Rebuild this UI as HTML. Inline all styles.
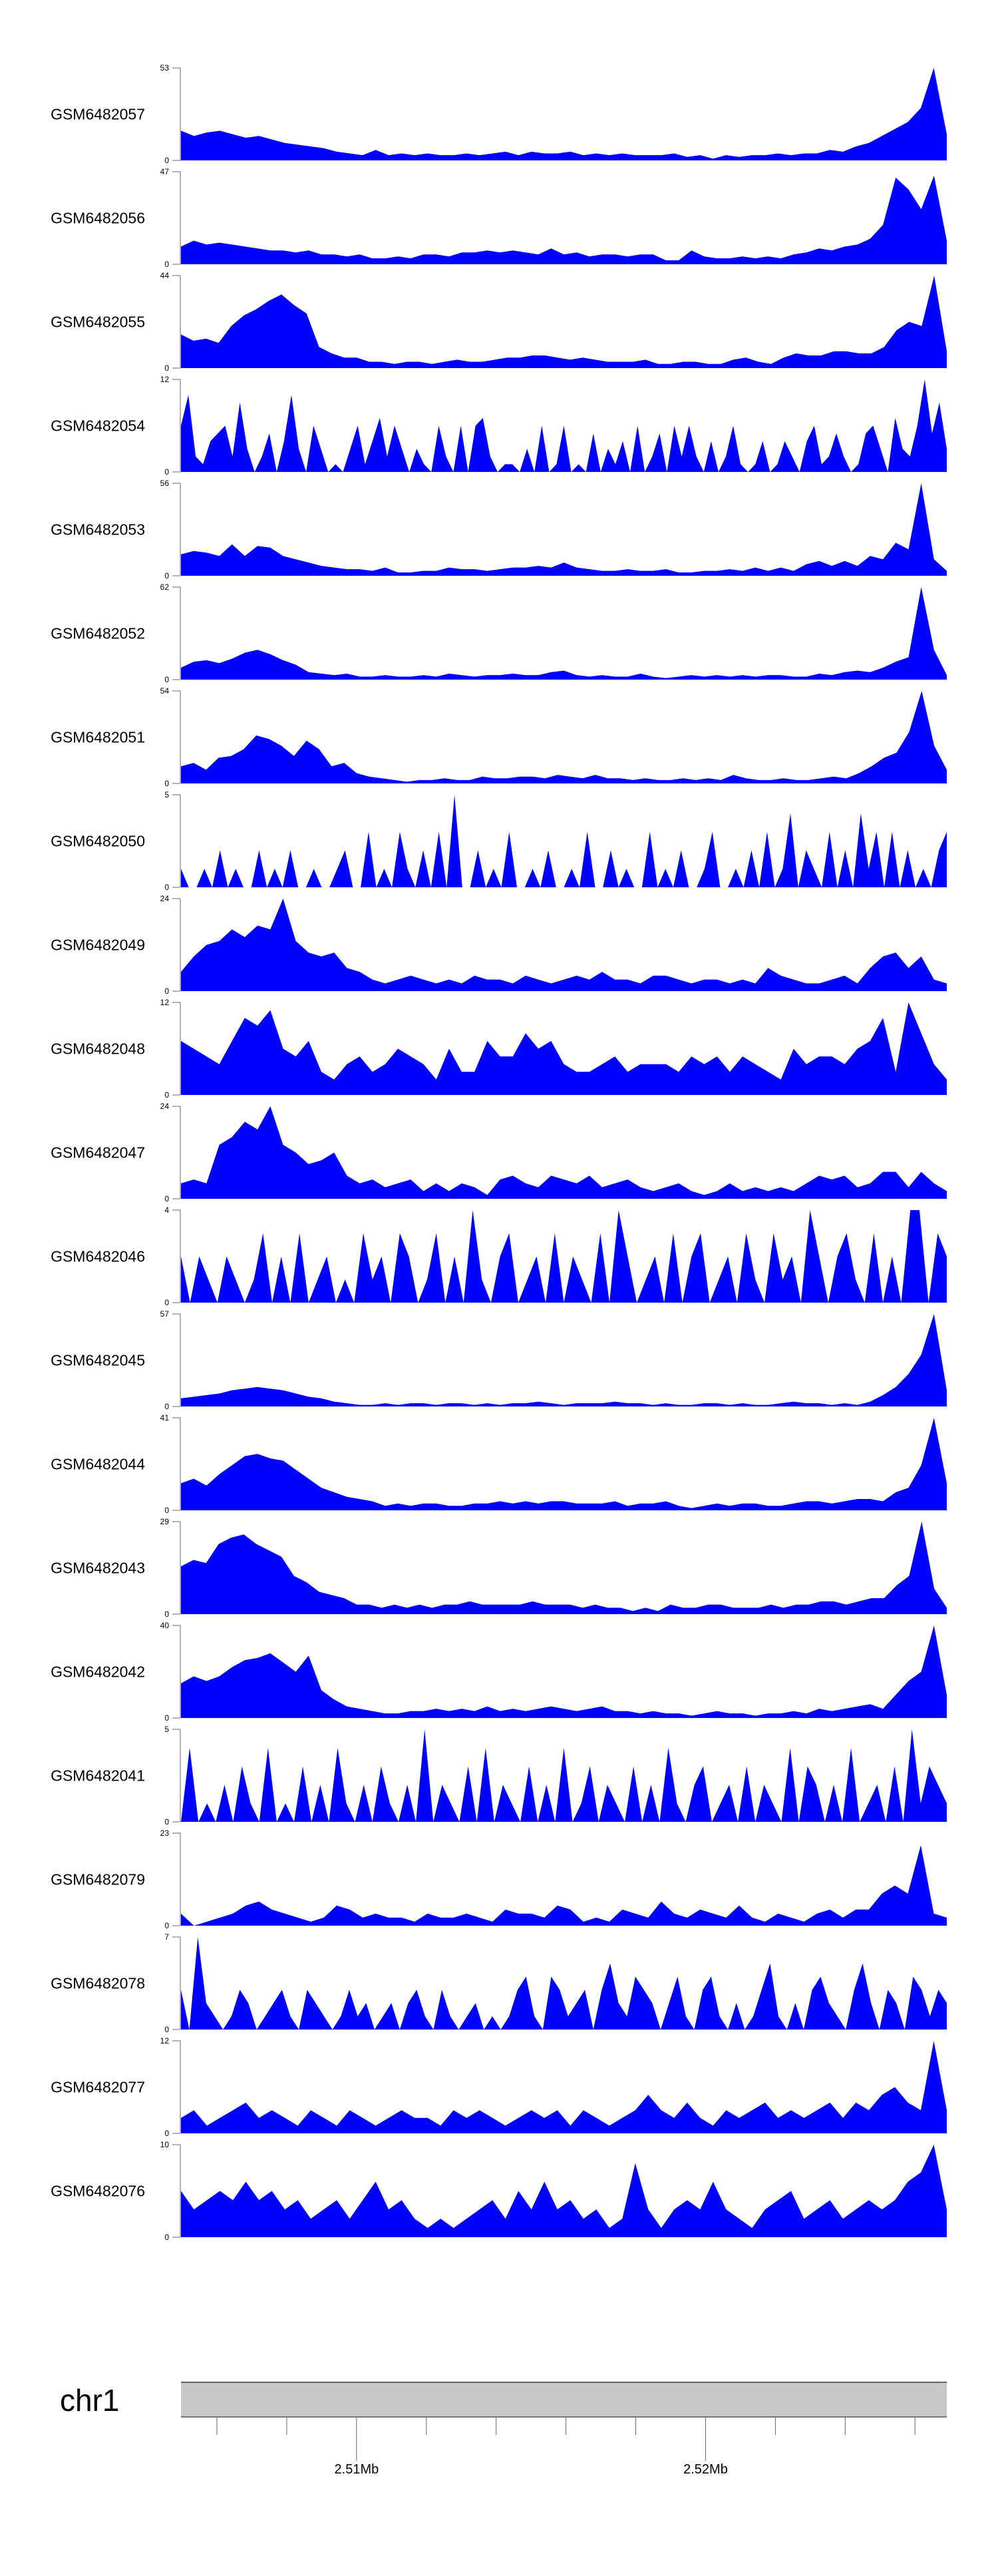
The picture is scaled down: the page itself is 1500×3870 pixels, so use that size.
<!DOCTYPE html>
<html><head><meta charset="utf-8"><style>html,body{margin:0;padding:0;background:#fff}svg{display:block}</style></head>
<body>
<svg id="chart" width="1500" height="3870" viewBox="0 0 1500 3870" xmlns="http://www.w3.org/2000/svg" font-family="Liberation Sans, sans-serif"></svg>
<script>
const sampleNames=["GSM6482057","GSM6482056","GSM6482055","GSM6482054","GSM6482053","GSM6482052","GSM6482051","GSM6482050","GSM6482049","GSM6482048","GSM6482047","GSM6482046","GSM6482045","GSM6482044","GSM6482043","GSM6482042","GSM6482041","GSM6482079","GSM6482078","GSM6482077","GSM6482076"];
const trackMax=[53,47,44,12,56,62,54,5,24,12,24,4,57,41,29,40,5,23,7,12,10];
const s0=[17,14,16,17,15,13,14,12,10,9,8,7,5,4,3,6,3,4,3,4,3,3,4,3,4,5,3,5,4,4,5,3,4,3,4,3,3,3,4,2,3,1,3,2,3,3,4,3,4,4,6,5,8,10,14,18,22,30,53,15];
const s1=[9,12,10,11,10,9,8,7,7,6,7,5,5,4,5,3,3,4,3,5,5,4,6,6,7,6,7,6,5,8,5,6,4,5,5,4,5,5,2,2,7,4,3,3,4,3,4,3,5,6,8,7,9,10,13,20,44,38,28,45,12];
const s2=[16,13,14,12,20,25,28,32,35,30,26,10,7,5,5,3,3,2,3,3,2,3,4,3,3,4,5,5,6,6,5,4,5,4,3,3,3,4,2,2,3,3,2,2,4,5,3,2,5,7,6,6,8,8,7,7,10,18,22,20,44,8];
const s3=[6,10,2,1,4,5,6,2,9,3,0,2,5,0,4,10,3,0,6,3,0,1,0,3,6,1,4,7,2,6,3,0,3,1,0,6,2,0,6,0,6,7,2,0,1,1,0,3,0,6,0,1,6,0,1,0,5,0,3,1,4,0,6,0,2,5,0,6,2,6,2,0,4,0,2,6,1,0,1,4,0,1,4,2,0,4,6,1,2,5,2,0,1,5,6,3,0,7,3,2,6,12,5,9,3];
const s4=[13,15,14,12,19,12,18,17,12,10,8,6,5,4,4,3,5,2,2,3,3,5,4,4,3,4,5,5,6,5,8,5,4,3,3,4,3,3,4,2,2,3,3,4,3,5,3,5,3,7,9,6,9,6,12,10,20,16,56,10,3];
const s5=[8,12,13,11,14,18,20,17,13,10,5,4,3,4,2,2,3,2,2,3,2,4,3,2,3,3,4,3,3,5,6,3,2,3,2,2,4,2,1,2,3,2,3,2,3,2,3,3,2,2,4,3,5,6,5,8,12,15,62,20,3];
const s6=[10,12,8,15,16,20,28,26,22,16,25,20,10,12,6,4,3,2,1,2,2,3,2,2,4,3,3,4,4,3,5,4,3,5,3,3,2,3,2,2,3,2,3,2,5,3,2,2,3,2,2,3,4,3,6,10,15,18,30,54,22,8];
const s7=[1,0,0,1,0,2,0,1,0,0,2,0,1,0,2,0,0,1,0,0,1,2,0,0,3,0,1,0,3,1,0,2,0,3,0,5,0,0,2,0,1,0,3,0,0,1,0,2,0,0,1,0,3,0,0,2,0,1,0,0,3,0,1,0,2,0,0,1,3,0,0,1,0,2,0,3,0,1,4,0,2,1,0,3,0,2,0,4,1,3,0,3,0,2,0,1,0,2,3];
const s8=[5,9,12,13,16,14,17,16,24,13,10,9,10,6,5,3,2,3,4,3,2,3,2,4,3,3,2,4,3,2,3,4,3,5,3,3,2,4,4,3,2,3,3,2,3,2,6,4,3,2,2,3,4,2,6,9,10,6,9,3,2];
const s9=[7,6,5,4,7,10,9,11,6,5,7,3,2,4,5,3,4,6,5,4,2,6,3,3,7,5,5,8,6,7,4,3,3,4,5,3,4,4,4,3,5,4,5,3,5,4,3,2,6,4,5,5,4,6,7,10,3,12,8,4,2];
const s10=[4,5,4,14,16,20,18,24,14,12,9,10,12,6,4,5,3,4,5,2,4,2,4,3,1,5,6,4,3,6,5,4,6,3,4,5,3,2,3,4,2,1,2,4,2,3,2,3,2,4,6,5,6,3,4,7,7,3,7,4,2];
const s11=[2,0,2,1,0,2,1,0,1,3,0,2,0,3,0,1,2,0,1,0,3,1,2,0,3,2,0,1,3,0,2,0,4,1,0,2,3,0,1,2,0,3,0,2,1,0,3,0,4,2,0,1,2,0,3,0,2,3,0,1,2,0,3,1,0,3,1,2,0,4,2,0,2,3,1,0,3,0,2,0,4,4,0,3,2];
const s12=[5,6,7,8,10,11,12,11,10,8,6,5,3,2,1,1,2,1,2,2,1,2,2,1,2,1,2,2,3,2,1,2,2,2,3,2,2,1,2,1,1,2,2,1,2,1,1,2,3,2,2,1,2,1,3,7,12,20,32,57,10];
const s13=[12,14,11,16,20,24,25,23,22,18,14,10,8,6,5,4,2,3,2,3,3,2,2,3,3,4,3,4,3,4,4,3,3,3,4,2,3,3,4,2,1,2,3,2,3,3,2,2,3,4,4,3,4,5,5,4,8,10,20,41,12];
const s14=[15,17,16,22,24,25,22,20,18,12,10,7,6,5,3,3,2,3,2,3,2,3,3,4,3,3,3,3,4,3,3,3,2,3,2,2,1,2,1,3,2,2,3,3,2,2,2,3,2,3,3,4,4,3,4,5,5,9,12,29,8,2];
const s15=[15,18,16,18,22,25,26,28,24,20,27,12,8,5,4,3,2,2,3,3,4,3,4,3,5,3,4,3,4,5,4,3,4,5,3,3,2,3,2,2,1,2,3,2,2,1,2,2,3,2,4,3,4,5,6,4,10,16,20,40,10];
const s16=[0,4,0,1,0,2,0,3,1,0,4,0,1,0,3,0,2,0,4,1,0,2,0,3,1,0,2,0,5,0,2,1,0,3,0,4,0,2,1,0,3,0,2,0,4,0,1,3,0,2,1,0,3,0,2,0,4,1,0,2,3,0,1,2,0,3,0,2,1,0,4,0,3,2,0,2,0,4,0,1,2,0,3,0,5,1,3,2,1];
const s17=[3,0,1,2,3,5,6,4,3,2,1,2,5,4,2,3,2,2,1,3,2,2,3,2,1,4,3,3,2,5,4,1,2,1,4,3,2,6,3,2,4,3,2,5,2,1,3,2,1,3,4,2,4,4,8,10,8,20,3,2];
const s18=[3,0,7,2,1,0,1,3,2,0,1,2,3,1,0,3,2,1,0,1,3,1,2,0,1,2,0,2,3,1,0,3,1,0,1,2,0,1,0,1,3,4,1,0,4,3,1,2,3,0,3,5,2,1,4,3,2,0,2,4,1,0,3,4,1,0,2,0,1,3,5,1,0,2,0,3,4,2,1,0,3,5,2,0,3,2,0,4,3,1,3,2];
const s19=[2,3,1,2,3,4,2,3,2,1,3,2,1,3,2,1,2,3,2,2,1,3,2,3,2,1,2,3,2,3,1,3,2,1,2,3,5,3,2,4,2,1,3,2,3,4,2,3,2,3,4,2,4,3,5,6,4,3,12,3];
const s20=[5,3,4,5,4,6,4,5,3,4,2,3,4,2,4,6,3,4,2,1,2,1,2,3,4,2,5,3,6,3,4,2,3,1,2,8,3,1,3,4,3,6,3,2,1,3,4,5,2,3,4,2,3,4,3,4,6,7,10,3];
const series=[s0,s1,s2,s3,s4,s5,s6,s7,s8,s9,s10,s11,s12,s13,s14,s15,s16,s17,s18,s19,s20];
const axisTickLabels=["2.51Mb","2.52Mb"];
const genomicStartKb=2504.97, genomicEndKb=2526.91, minorStepKb=2;

const NS="http://www.w3.org/2000/svg";
const svg=document.getElementById('chart');
function mk(tag,attrs,parent){const e=document.createElementNS(NS,tag);for(const k in attrs)e.setAttribute(k,attrs[k]);(parent||svg).appendChild(e);return e;}
const X0=272,X1=1423,TOP0=102,PITCH=156,H=139;
function xIdx(i,n){return X0+(X1-X0)*i/(n-1);}
function yVal(v,max,top){return top+H-H*Math.min(v,max)/max;}

series.forEach((vals,t)=>{
  const top=TOP0+t*PITCH, base=top+H, max=trackMax[t];
  const g=mk('g',{});
  
  
  const lab=mk('text',{x:218,y:top+H/2+8,'text-anchor':'end','font-size':23,fill:'#000'},g);
  lab.textContent=sampleNames[t];
  
  
  const ax=mk('path',{d:`M259 ${top}H271V${base}H259`,stroke:'#888',fill:'none','stroke-width':1.3},g);
  
  
  const tMax=mk('text',{x:254,y:top+4,'text-anchor':'end','font-size':12,fill:'#000'},g);
  tMax.textContent=String(max);
  
  
  const tMin=mk('text',{x:254,y:base+4,'text-anchor':'end','font-size':12,fill:'#000'},g);
  tMin.textContent='0';
  
  
  let d=`M${X0} ${base}`;
  vals.forEach((v,i)=>{d+=`L${xIdx(i,vals.length).toFixed(1)} ${yVal(v,max,top).toFixed(1)}`;});
  d+=`L${X1} ${base}Z`;
  const area=mk('path',{d:d,fill:'#0000ff',stroke:'none'},g);
  
  
});

// chromosome axis
const cg=mk('g',{});


const chr=mk('text',{x:90,y:3622,'font-size':46,fill:'#000'},cg);
chr.textContent='chr1';


const band=mk('rect',{x:X0,y:3579,width:X1-X0,height:52,fill:'#c8c8c8'},cg);


mk('line',{x1:X0,x2:X1,y1:3579,y2:3579,stroke:'#666','stroke-width':2},cg);
mk('line',{x1:X0,x2:X1,y1:3631,y2:3631,stroke:'#777','stroke-width':2},cg);
function xKb(kb){return X0+(X1-X0)*(kb-genomicStartKb)/(genomicEndKb-genomicStartKb);}
let labIdx=0;
for(let kb=2506;kb<genomicEndKb;kb+=minorStepKb){
  const x=xKb(kb); const major=(Math.round(kb)%10===0);
  const tk=mk('line',{x1:x,x2:x,y1:3631,y2:major?3697:3658,stroke:'#666','stroke-width':1},cg);
  
  
  if(major&&labIdx<axisTickLabels.length){
    const tl=mk('text',{x:x,y:3716,'text-anchor':'middle','font-size':20,fill:'#000'},cg);
    tl.textContent=axisTickLabels[labIdx++];
    
    
  }
}
</script>
</body></html>
